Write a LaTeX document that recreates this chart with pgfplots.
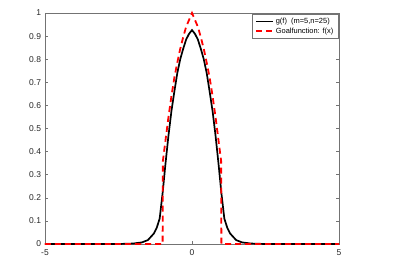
\documentclass[border=0pt]{standalone}
\usepackage{fontspec}
\setmainfont{Liberation Sans}
\usepackage{pgfplots}
\pgfplotsset{compat=1.18}
\definecolor{axgray}{gray}{0.15}
\begin{document}
\begin{tikzpicture}
\begin{axis}[
  name=ax,
  at={(0,0)}, anchor=south west,
  scale only axis,
  width=294bp, height=231bp,
  xmin=-5, xmax=5, ymin=0, ymax=1,
  clip=false,
  xtick={-5,0,5},
  ytick={0,0.1,0.2,0.3,0.4,0.5,0.6,0.7,0.8,0.9,1},
  yticklabels={0,0.1,0.2,0.3,0.4,0.5,0.6,0.7,0.8,0.9,1},
  xticklabels={-5,0,5},
  tick align=inside,
  major tick length=3bp,
  axis line style={black!55, line width=0.5bp},
  every tick/.style={black!55, line width=0.5bp},
  tick label style={font=\fontsize{8.5}{10}\selectfont, text=axgray},
  /pgf/number format/assume math mode=true,
  xticklabel style={yshift=-2bp},
  yticklabel style={xshift=-0.5bp},
  legend style={at={(rel axis cs:0.997,0.997)}, anchor=north east,
    font=\fontsize{7.5}{8.5}\selectfont, draw=black!55, line width=0.5bp,
    inner xsep=2.5bp, inner ysep=2bp, row sep=-1bp, cells={anchor=west}},
  legend cell align=left,
  legend image code/.code={\draw[#1] (0bp,0bp) -- (17bp,0bp);},
]
\addplot[black, line width=1.7bp] coordinates {
(-5,0) (-2.5,0) (-2.0,0.002) (-1.7,0.007) (-1.5,0.017) (-1.3,0.045) (-1.2,0.07) (-1.1,0.11)
(-1.0,0.22) (-0.9,0.35) (-0.8,0.47) (-0.7,0.575) (-0.6,0.66) (-0.5,0.74) (-0.4,0.80)
(-0.3,0.845) (-0.2,0.885) (-0.1,0.91) (0,0.926)
(0.1,0.91) (0.2,0.885) (0.3,0.845) (0.4,0.80) (0.5,0.74) (0.6,0.66) (0.7,0.575)
(0.8,0.47) (0.9,0.35) (1.0,0.22) (1.1,0.11) (1.2,0.07) (1.3,0.045) (1.5,0.017)
(1.7,0.007) (2.0,0.002) (2.5,0) (5,0)
};
\addlegendentry{g(f)\ \ (m=5,n=25)}
\addplot[red, line width=1.8bp, dash pattern=on 6bp off 4bp] coordinates {
(-5,0) (-1.0,0) (-0.99,0.36) (-0.9,0.45) (-0.8,0.55) (-0.7,0.64) (-0.6,0.72)
(-0.5,0.785) (-0.4,0.845) (-0.3,0.895) (-0.2,0.94) (-0.1,0.97) (0,1)
(0.1,0.97) (0.2,0.94) (0.3,0.895) (0.4,0.845) (0.5,0.785) (0.6,0.72) (0.7,0.64)
(0.8,0.55) (0.9,0.45) (0.99,0.36) (1.0,0) (5,0)
};
\addlegendentry{Goalfunction: f(x)}
\end{axis}
\path (ax.south west) ++(-45bp,-22bp) rectangle ++(408bp,266bp);
\end{tikzpicture}
\end{document}
